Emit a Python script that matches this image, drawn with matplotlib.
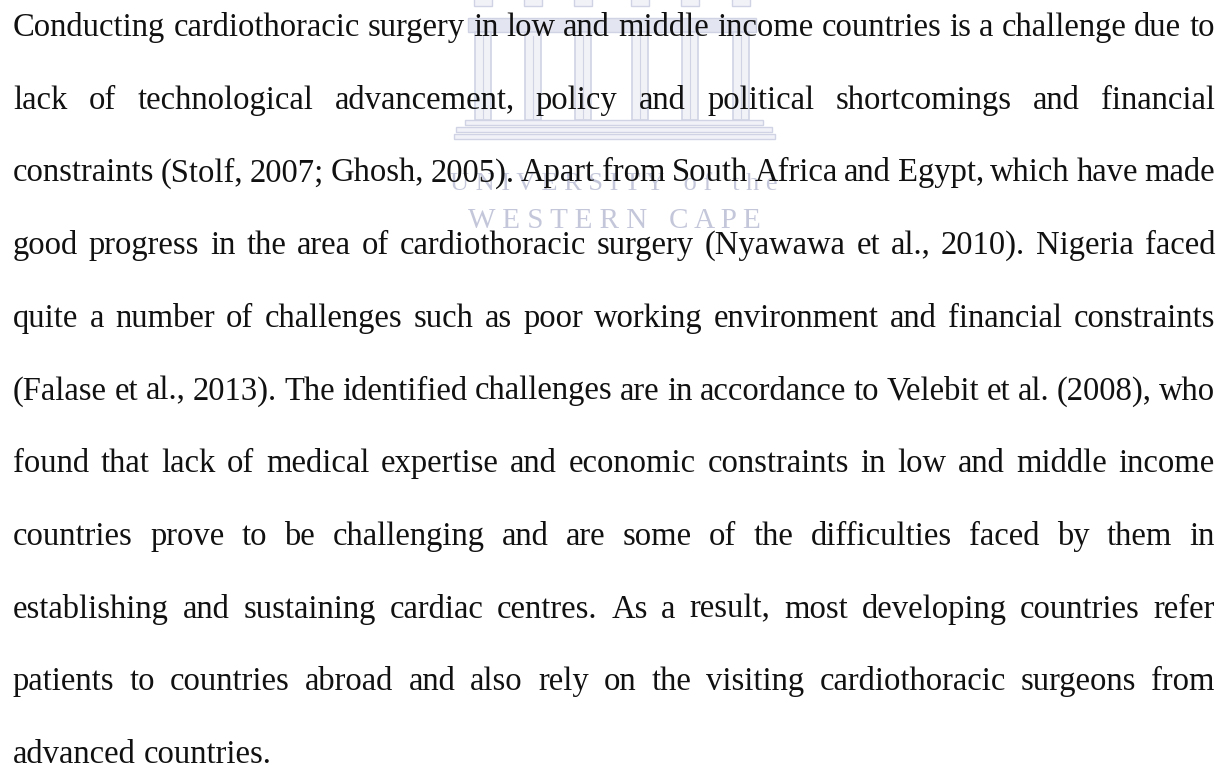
import matplotlib
matplotlib.use('Agg')
import matplotlib.pyplot as plt
from matplotlib.patches import Rectangle

# Page size in pixels (dpi 100)
W, H = 1227, 776

# Paragraph text, one entry per printed line
lines = [
    "Conducting cardiothoracic surgery in low and middle income countries is a challenge due to",
    "lack of technological advancement, policy and political shortcomings and financial",
    "constraints (Stolf, 2007; Ghosh, 2005). Apart from South Africa and Egypt, which have made",
    "good progress in the area of cardiothoracic surgery (Nyawawa et al., 2010). Nigeria faced",
    "quite a number of challenges such as poor working environment and financial constraints",
    "(Falase et al., 2013). The identified challenges are in accordance to Velebit et al. (2008), who",
    "found that lack of medical expertise and economic constraints in low and middle income",
    "countries prove to be challenging and are some of the difficulties faced by them in",
    "establishing and sustaining cardiac centres. As a result, most developing countries refer",
    "patients to countries abroad and also rely on the visiting cardiothoracic surgeons from",
    "advanced countries.",
]

# Watermark texts (letter spaced)
wm_top = "U N I V E R S I T Y   o f   t h e"
wm_bottom = "W E S T E R N   C A P E"

# Layout
left, right = 13, 1215
first_baseline = 36
line_step = 72.7
text_color = '#111111'
wm_color = '#d0d3e4'
wm_fill = '#f1f2f8'

fig = plt.figure(figsize=(W / 100, H / 100), dpi=100)
ax = fig.add_axes([0, 0, 1, 1])
ax.set_xlim(0, W)
ax.set_ylim(H, 0)
ax.axis('off')
fig.patch.set_facecolor('white')

renderer = fig.canvas.get_renderer()


def text_width(s, **kw):
    t = ax.text(0, 0, s, **kw)
    w = t.get_window_extent(renderer).width
    t.remove()
    return w


def spread(pieces, x0, x1, y, justify=True, space=None, **kw):
    widths = [text_width(p, **kw) for p in pieces]
    if justify and len(pieces) > 1:
        gap = (x1 - x0 - sum(widths)) / (len(pieces) - 1)
    else:
        gap = space
    x = x0
    for p, w in zip(pieces, widths):
        ax.text(x, y, p, va='baseline', ha='left', **kw)
        x += w + gap


# font size chosen so that the first line fits with normal spacing
base_kw = dict(fontfamily='Liberation Serif', color=text_color, zorder=2)
natural = text_width(lines[0], fontsize=20, **base_kw)
font_size = 20 * (right - left) / natural
txt_kw = dict(fontsize=font_size, **base_kw)

# ---- watermark: building ----
for (x0, x1, y) in [(465, 763, 123), (456, 772, 130), (454, 775, 137)]:
    ax.add_patch(Rectangle((x0, y - 3), x1 - x0, 5, facecolor=wm_fill,
                           edgecolor=wm_color, lw=1.0, zorder=0))
ax.add_patch(Rectangle((468, 18), 288, 14, facecolor='#e3e5f0',
                       edgecolor=wm_color, lw=1.0, zorder=0))
pillars = [483, 533, 583, 640, 690, 741]
for xc in pillars:
    ax.add_patch(Rectangle((xc - 9, -2), 18, 8, facecolor=wm_fill,
                           edgecolor=wm_color, lw=1.0, zorder=0))
    ax.add_patch(Rectangle((xc - 8, 32), 16, 88, facecolor=wm_fill,
                           edgecolor=wm_color, lw=1.2, zorder=0))
    ax.plot([xc, xc], [36, 118], color=wm_color, lw=0.8, zorder=0)

# ---- watermark: lettering ----
wm_kw = dict(fontfamily='Liberation Serif', color='#c4c7da', zorder=0, va='baseline', ha='center')
ax.text(614, 190, wm_top, fontsize=19, **wm_kw)
ax.text(614, 228, wm_bottom, fontsize=21, **wm_kw)

# ---- paragraph ----
space_w = text_width('a a', **txt_kw) - 2 * text_width('a', **txt_kw)
for i, line in enumerate(lines):
    y = first_baseline + i * line_step
    last = i == len(lines) - 1
    spread(line.split(' '), left, right, y, justify=not last, space=space_w, **txt_kw)

fig.savefig('out.png', dpi=100, facecolor='white')
